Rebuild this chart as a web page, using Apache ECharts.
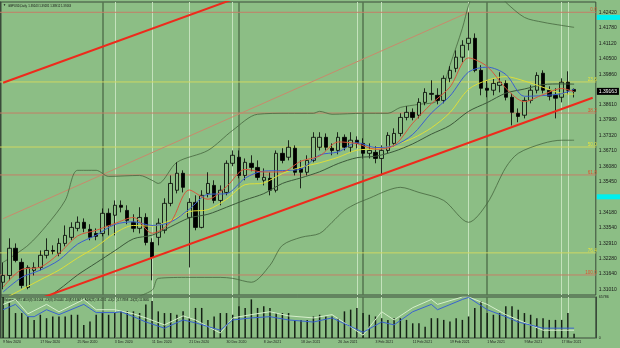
<!DOCTYPE html>
<html><head><meta charset="utf-8">
<script src="https://cdn.jsdelivr.net/npm/echarts@6/dist/echarts.min.js"></script>
<style>html,body{margin:0;padding:0;background:#8cbe85;}#c{width:620px;height:348px;}</style>
</head><body><div id="c"></div>
<script>
const dates = ['9 Nov 2020','10 Nov 2020','11 Nov 2020','12 Nov 2020','13 Nov 2020','16 Nov 2020','17 Nov 2020','18 Nov 2020','19 Nov 2020','20 Nov 2020','23 Nov 2020','24 Nov 2020','25 Nov 2020','26 Nov 2020','27 Nov 2020','30 Nov 2020',
'1 Dec 2020','2 Dec 2020','3 Dec 2020','4 Dec 2020','7 Dec 2020','8 Dec 2020','9 Dec 2020','10 Dec 2020','11 Dec 2020','14 Dec 2020','15 Dec 2020','16 Dec 2020','17 Dec 2020','18 Dec 2020','21 Dec 2020','22 Dec 2020','23 Dec 2020','24 Dec 2020','28 Dec 2020','29 Dec 2020','30 Dec 2020','31 Dec 2020',
'4 Jan 2021','5 Jan 2021','6 Jan 2021','7 Jan 2021','8 Jan 2021','11 Jan 2021','12 Jan 2021','13 Jan 2021','14 Jan 2021','15 Jan 2021','18 Jan 2021','19 Jan 2021','20 Jan 2021','21 Jan 2021','22 Jan 2021','25 Jan 2021','26 Jan 2021','27 Jan 2021','28 Jan 2021','29 Jan 2021',
'1 Feb 2021','2 Feb 2021','3 Feb 2021','4 Feb 2021','5 Feb 2021','8 Feb 2021','9 Feb 2021','10 Feb 2021','11 Feb 2021','12 Feb 2021','15 Feb 2021','16 Feb 2021','17 Feb 2021','18 Feb 2021','19 Feb 2021','22 Feb 2021','23 Feb 2021','24 Feb 2021','25 Feb 2021','26 Feb 2021',
'1 Mar 2021','2 Mar 2021','3 Mar 2021','4 Mar 2021','5 Mar 2021','8 Mar 2021','9 Mar 2021','10 Mar 2021','11 Mar 2021','12 Mar 2021','15 Mar 2021','16 Mar 2021','17 Mar 2021','18 Mar 2021','19 Mar 2021'];
const padSlots = ['', '', ''];

const open  = [1.3130,1.3158,1.3270,1.3212,1.3109,1.3179,1.3191,1.3241,1.3261,1.3249,1.3290,1.3315,1.3352,1.3377,1.3348,1.3331,1.3331,1.3414,1.3406,1.3447,1.3426,1.3377,1.3352,1.3397,1.3294,1.3315,1.3344,1.3455,1.3509,1.3579,1.3397,1.3459,1.3356,1.3496,1.3529,1.3467,1.3500,1.3620,1.3645,1.3570,1.3620,1.3603,1.3550,1.3558,1.3509,1.3661,1.3645,1.3682,1.3599,1.3583,1.3632,1.3686,1.3727,1.3682,1.3673,1.3727,1.3686,1.3715,1.3702,1.3661,1.3665,1.3640,1.3673,1.3702,1.3743,1.3809,1.3830,1.3818,1.3871,1.3908,1.3900,1.3879,1.3970,1.4011,1.4057,1.4114,1.4135,1.4003,1.3929,1.3921,1.3941,1.3949,1.3892,1.3826,1.3818,1.3879,1.3921,1.3991,1.3921,1.3900,1.3892,1.3954,1.39243];
const high  = [1.3212,1.3311,1.3290,1.3228,1.3200,1.3212,1.3261,1.3311,1.3282,1.3311,1.3364,1.3377,1.3401,1.3393,1.3369,1.3352,1.3434,1.3434,1.3467,1.3467,1.3447,1.3410,1.3439,1.3414,1.3311,1.3393,1.3476,1.3570,1.3624,1.3591,1.3476,1.3488,1.3509,1.3583,1.3550,1.3529,1.3632,1.3673,1.3673,1.3640,1.3653,1.3632,1.3599,1.3583,1.3673,1.3682,1.3715,1.3694,1.3632,1.3653,1.3748,1.3748,1.3743,1.3702,1.3748,1.3739,1.3748,1.3731,1.3723,1.3702,1.3690,1.3694,1.3748,1.3764,1.3826,1.3855,1.3846,1.3888,1.3929,1.3962,1.3929,1.3982,1.4020,1.4085,1.4127,1.4241,1.4155,1.4024,1.3962,1.3970,1.3995,1.3962,1.3908,1.3846,1.3892,1.3941,1.3995,1.4003,1.3937,1.3929,1.3970,1.3999,1.39281];
const low   = [1.3101,1.3138,1.3212,1.3105,1.3101,1.3158,1.3179,1.3228,1.3245,1.3237,1.3278,1.3303,1.3340,1.3336,1.3303,1.3303,1.3319,1.3323,1.3323,1.3418,1.3369,1.3336,1.3331,1.3282,1.3138,1.3282,1.3331,1.3443,1.3496,1.3500,1.3191,1.3344,1.3352,1.3480,1.3455,1.3447,1.3488,1.3608,1.3558,1.3550,1.3587,1.3550,1.3529,1.3488,1.3500,1.3620,1.3632,1.3570,1.3517,1.3570,1.3624,1.3673,1.3673,1.3653,1.3657,1.3673,1.3665,1.3682,1.3640,1.3640,1.3620,1.3570,1.3661,1.3690,1.3731,1.3797,1.3797,1.3805,1.3859,1.3879,1.3863,1.3867,1.3954,1.3995,1.4036,1.4085,1.3995,1.3900,1.3892,1.3900,1.3912,1.3879,1.3776,1.3789,1.3805,1.3867,1.3908,1.3908,1.3879,1.3805,1.3871,1.3904,1.38912];
const close = [1.3158,1.3270,1.3220,1.3117,1.3191,1.3191,1.3241,1.3261,1.3258,1.3290,1.3323,1.3356,1.3377,1.3352,1.3315,1.3319,1.3414,1.3364,1.3447,1.3439,1.3385,1.3352,1.3397,1.3294,1.3233,1.3373,1.3455,1.3537,1.3579,1.3521,1.3459,1.3356,1.3488,1.3537,1.3467,1.3509,1.3620,1.3653,1.3570,1.3624,1.3603,1.3562,1.3562,1.3509,1.3661,1.3632,1.3686,1.3583,1.3583,1.3632,1.3727,1.3727,1.3686,1.3673,1.3727,1.3686,1.3715,1.3702,1.3661,1.3673,1.3640,1.3673,1.3735,1.3743,1.3809,1.3830,1.3809,1.3871,1.3912,1.3904,1.3879,1.3970,1.4003,1.4057,1.4106,1.4135,1.4003,1.3929,1.3921,1.3949,1.3954,1.3892,1.3830,1.3813,1.3879,1.3921,1.3982,1.3921,1.3896,1.3888,1.3954,1.3921,1.39163];

const volume = [65786,56460,40020,40020,34540,29060,37280,31800,34540,34540,
 34540,37280,37280,20830,26310,37280,40020,37280,40020,42760,
 42760,42760,40020,53720,59200,42760,40020,40020,37280,42760,
 31800,48240,48240,29060,34540,40020,40020,37280,50980,48240,
 61950,48240,50980,48240,40020,40020,40020,29060,29060,29060,
 34540,37280,34540,34540,31800,42760,45500,48240,40020,37280,
 34540,31800,29060,31800,31800,29060,23570,23570,18090,31800,
 31800,29060,26310,31800,29060,34540,48240,59200,40020,37280,
 40020,50980,50980,45500,40020,37280,31800,31800,29060,29060,
 29060,40020,6871];

const maRed = [[0,1.3110],[3,1.3183],[6,1.3192],[9,1.3248],[12,1.3321],[15,1.3344],[18,1.3372],[21,1.3397],[24,1.3332],[27,1.3378],[30,1.3510],[33,1.3472],[36,1.3524],[39,1.3595],[42,1.3584],[45,1.3585],[48,1.3629],[51,1.3650],[54,1.3708],[57,1.3701],[60,1.3678],[63,1.3693],[66,1.3785],[69,1.3865],[72,1.3934],[75,1.4054],[78,1.4019],[81,1.3929],[84,1.3874],[87,1.3903],[90,1.3928],[92,1.3915]];
const maBlue = [[0,1.3090],[3,1.3150],[6,1.3180],[9,1.3221],[12,1.3287],[15,1.3324],[18,1.3368],[21,1.3379],[24,1.3364],[27,1.3378],[30,1.3431],[33,1.3492],[36,1.3495],[39,1.3559],[42,1.3588],[45,1.3590],[48,1.3597],[51,1.3654],[54,1.3667],[57,1.3705],[60,1.3685],[63,1.3693],[66,1.3739],[69,1.3827],[72,1.3897],[75,1.3996],[78,1.4016],[81,1.3986],[84,1.3896],[87,1.3899],[90,1.3907],[92,1.3925]];
const maYellow = [[0,1.3060],[3,1.3100],[6,1.3140],[9,1.3180],[12,1.3230],[15,1.3276],[18,1.3332],[21,1.3364],[24,1.3361],[27,1.3385],[30,1.3421],[33,1.3429],[36,1.3472],[39,1.3532],[42,1.3539],[45,1.3578],[48,1.3604],[51,1.3622],[54,1.3645],[57,1.3674],[60,1.3679],[63,1.3695],[66,1.3723],[69,1.3766],[72,1.3829],[75,1.3925],[78,1.3962],[81,1.3977],[84,1.3959],[87,1.3933],[90,1.3908],[92,1.3905]];
const maDark = [[0,1.2990],[3,1.3020],[6,1.3050],[9,1.3100],[12,1.3160],[15,1.3210],[18,1.3260],[21,1.3309],[24,1.3324],[27,1.3359],[30,1.3395],[33,1.3410],[36,1.3439],[39,1.3469],[42,1.3495],[45,1.3537],[48,1.3560],[51,1.3585],[54,1.3619],[57,1.3643],[60,1.3649],[63,1.3669],[66,1.3700],[69,1.3740],[72,1.3776],[75,1.3834],[78,1.3870],[81,1.3909],[84,1.3926],[87,1.3944],[90,1.3947],[92,1.3946]];
const bandUpper = [[0,1.3212],[4,1.3282],[7,1.3364],[10,1.3467],[12,1.3591],[15,1.3591],[17,1.3566],[22,1.3570],[24,1.3550],[25,1.3537],[28,1.3624],[33,1.3673],[37,1.3756],[41,1.3822],[46,1.3826],[50,1.3826],[51,1.3834],[53,1.3822],[58,1.3826],[62,1.3826],[64,1.3850],[67,1.3863],[70,1.3879],[72,1.4024],[74,1.4176],[75,1.4271],[76,1.4333],[78,1.4353],[80,1.4312],[81,1.4283],[84,1.4221],[87,1.4201],[90,1.4188],[92,1.4180]];
const bandLower = [[20,1.3056],[24,1.3097],[25,1.3146],[30,1.3150],[35,1.3150],[37,1.3146],[40,1.3130],[43,1.3200],[45,1.3282],[48,1.3315],[51,1.3331],[53,1.3377],[55,1.3426],[57,1.3455],[59,1.3476],[62,1.3509],[64,1.3521],[67,1.3500],[71,1.3467],[75,1.3377],[78,1.3455],[81,1.3603],[83,1.3661],[87,1.3702],[90,1.3715],[92,1.3715]];

// volume-window indicator lines (0..100 scale): [bar, value]
const adxBlue = [[0,69],[2,82],[4,52],[5,52],[7,69],[9,57],[13,82],[15,62],[18,62],[19,64],[21,52],[23,39],[26,24],[29,44],[31,37],[35,19],[37,44],[40,49],[43,52],[46,44],[50,39],[53,49],[58,14],[61,39],[63,32],[66,64],[69,82],[70,69],[74,94],[75,99],[78,69],[81,52],[83,39],[87,24],[92,24]];
const adxPale = [[0,82],[2,94],[4,59],[7,82],[9,64],[13,94],[15,69],[18,69],[21,59],[23,49],[26,32],[29,54],[31,44],[35,12],[37,49],[40,57],[43,64],[46,54],[50,49],[53,57],[58,7],[61,64],[63,44],[66,74],[69,94],[70,82],[74,100],[75,100],[78,82],[81,57],[83,44],[87,19],[92,19]];

// channel lines and fibonacci: [bar, price]
const channelUpper = [[0,1.3952],[40,1.4323]];
const channelLower = [[0,1.3008],[95,1.3890]];
const fibDiagonal = [[0,1.3392],[75,1.4242]];
const fibLabels = ['0.0','23.6','38.2','50.0','61.8','76.4','100.0'];
const fibPrices = [1.4242,1.3955,1.3827,1.3687,1.3572,1.3251,1.3160];

const priceTicks = [1.42420,1.41780,1.41120,1.40500,1.39860,1.38610,1.37980,1.37320,1.36710,1.36080,1.35450,1.34180,1.33540,1.32910,1.32280,1.31640,1.31010];
const separatorBars = [16,38,58,78];
const markerBars = [18,24,30,37,57,61,75,90,91];
const lastPrice = 1.39163;
const cyanLevels = [1.4221,1.3482];

const BG = '#8cbe85';
const cats = dates.concat(padSlots);
const ohlc = dates.map((d,i)=>[open[i],close[i],low[i],high[i]]);

const vLines = separatorBars.map(b=>({xAxis:b, lineStyle:{color:'#55754f',width:1.5,type:'solid'}}))
  .concat(markerBars.map(b=>({xAxis:b, lineStyle:{color:'#c4e2bc',width:1,type:'solid'}})));

// horizontal levels spanning the whole main panel (x axis 2 runs 0..1 across the panel)
const fibSeries = fibPrices.map((p,k)=>{
  const red = k%2===0;
  return {type:'line', xAxisIndex:2, yAxisIndex:0, z:1, silent:true, showSymbol:true, symbol:'circle', symbolSize:0.1,
    lineStyle:{color: red?'#c47f66':'#cfd862', width:1}, itemStyle:{color:'transparent'},
    data:[[0,p], {value:[1,p], label:{show:true, position:'left', distance:0, offset:[1,-2.6], formatter: fibLabels[k], color: red?'#e0502c':'#e6e43c', fontSize:4.6}}]};
});
const boxSeries = [
  {type:'line', xAxisIndex:2, yAxisIndex:0, z:7, silent:true, showSymbol:true, symbol:'circle', symbolSize:0.1, itemStyle:{color:'transparent'}, lineStyle:{width:0},
    data:[{value:[1,lastPrice], label:{show:true, position:'right', distance:1, formatter: lastPrice.toFixed(5), backgroundColor:'#000', color:'#ffffff', fontSize:5, padding:[1,2,1,2]}}]}
].concat(cyanLevels.map(p=>({type:'line', xAxisIndex:2, yAxisIndex:0, z:7, silent:true, showSymbol:true, symbol:'circle', symbolSize:0.1, itemStyle:{color:'transparent'}, lineStyle:{width:0},
    data:[{value:[1,p], label:{show:true, position:'right', distance:1, formatter:' ', backgroundColor:'#00f0f0', width:20, height:4, padding:[0.5,2,0.5,2], fontSize:4}}]})));

const chart = echarts.init(document.getElementById('c'), null, {renderer:'canvas'});
const option = {
  backgroundColor: BG,
  animation: false,
  textStyle: {fontFamily: 'Liberation Sans'},
  grid: [
    {left:-2.3, top:2, width:598.1, height:293, show:true, borderColor:'#3a4a3a', borderWidth:1},
    {left:-2.3, top:297, width:598.1, height:41, show:true, borderColor:'#3a4a3a', borderWidth:1}
  ],
  xAxis: [
    {type:'category', gridIndex:0, data:cats, boundaryGap:true, axisLine:{show:false}, axisTick:{show:false}, axisLabel:{show:false}, splitLine:{show:false}},
    {type:'category', gridIndex:1, data:cats, boundaryGap:true, axisLine:{show:false}, axisTick:{show:false}, splitLine:{show:false},
      axisLabel:{show:true, interval:(i)=> i%6===0 && i<=90, align:'left', fontSize:3.5, color:'#1e1e1e', margin:2}},
    {type:'value', gridIndex:0, min:0, max:1, show:false}
  ],
  yAxis: [
    {type:'value', gridIndex:0, position:'right', min:1.30775, max:1.42844, splitLine:{show:false},
      axisLine:{show:true, lineStyle:{color:'#3a4a3a', width:1}}, axisTick:{show:false},
      axisLabel:{customValues: priceTicks, formatter:(v)=>v.toFixed(5), fontSize:5, color:'#1a1a1a', margin:3}},
    {type:'value', gridIndex:1, position:'right', min:0, max:65786, splitLine:{show:false},
      axisLine:{show:true, lineStyle:{color:'#3a4a3a', width:1}}, axisTick:{show:false},
      axisLabel:{customValues:[0,65786], formatter:(v)=>String(v), fontSize:3.6, color:'#1a1a1a', margin:3}},
    {type:'value', gridIndex:1, min:0, max:100, show:false}
  ],
  series: [
    {type:'line', xAxisIndex:0, yAxisIndex:0, data:[], silent:true,
      markLine:{silent:true, symbol:['none','none'], z:1, label:{show:false}, data: vLines}},
    {type:'line', xAxisIndex:1, yAxisIndex:2, data:[], silent:true,
      markLine:{silent:true, symbol:['none','none'], z:1, label:{show:false}, data: vLines}},
    {type:'line', data:fibDiagonal, xAxisIndex:0, yAxisIndex:0, showSymbol:false, z:2, lineStyle:{color:'#c88a6c', width:1}},
    {type:'line', data:bandUpper, showSymbol:false, smooth:0.3, z:2, lineStyle:{color:'#46663f', width:0.8}},
    {type:'line', data:bandLower, showSymbol:false, smooth:0.3, z:2, lineStyle:{color:'#46663f', width:0.8}},
    {type:'candlestick', xAxisIndex:0, yAxisIndex:0, data:ohlc, barWidth:4, z:3,
      itemStyle:{color:BG, color0:'#000000', borderColor:'#000000', borderColor0:'#000000', borderWidth:0.8}},
    {type:'line', data:maDark, showSymbol:false, smooth:0.3, z:4, lineStyle:{color:'#3c583a', width:1}},
    {type:'line', data:maYellow, showSymbol:false, smooth:0.3, z:4, lineStyle:{color:'#dede3a', width:1}},
    {type:'line', data:maBlue, showSymbol:false, smooth:0.3, z:4, lineStyle:{color:'#3b5fd0', width:1}},
    {type:'line', data:maRed, showSymbol:false, smooth:0.3, z:4, lineStyle:{color:'#d8563c', width:1}},
    {type:'line', data:channelUpper, showSymbol:false, z:5, lineStyle:{color:'#ee2a1c', width:2}},
    {type:'line', data:channelLower, showSymbol:false, z:5, lineStyle:{color:'#ee2a1c', width:2}},
    {type:'bar', xAxisIndex:1, yAxisIndex:1, data:volume, barWidth:1.5, z:3, itemStyle:{color:'#142014'}},
    {type:'line', xAxisIndex:1, yAxisIndex:2, data:adxPale, showSymbol:false, z:4, lineStyle:{color:'#d6efcc', width:1}},
    {type:'line', xAxisIndex:1, yAxisIndex:2, data:adxBlue, showSymbol:false, z:5, lineStyle:{color:'#3a62d0', width:1}}
  ].concat(fibSeries, boxSeries),
  graphic: [
    {type:'text', left:3, top:4, style:{text:'▼', fontSize:3, fill:'#111'}},
    {type:'text', left:8, top:4.5, style:{text:'GBPUSD,Daily  1.39243 1.39281 1.38912 1.39163', fontSize:2.8, fill:'#111', fontFamily:'Liberation Sans'}},
    {type:'text', left:4, top:298.5, style:{text:'Volumes 6871  ADX(8) 19.1064  +DI(8) 19.0444  -DI(8) 13.8013  ADX(21) 18.4281  +DI(21) 17.7898  -DI(21) 11.8665', fontSize:2.8, fill:'#111', fontFamily:'Liberation Sans'}},
    {type:'rect', shape:{x:0, y:2, width:1.5, height:336}, style:{fill:'#3a4a3a'}}
  ]
};
chart.setOption(option);
</script></body></html>
